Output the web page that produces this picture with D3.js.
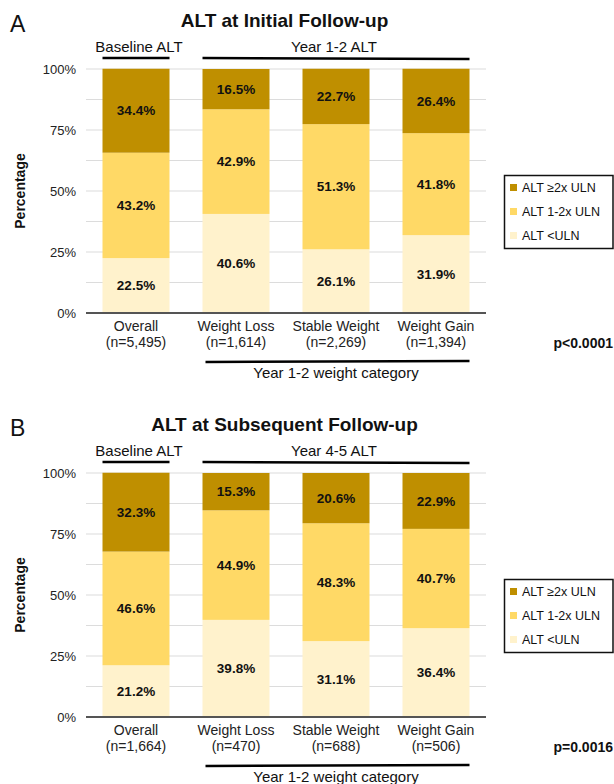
<!DOCTYPE html>
<html>
<head>
<meta charset="utf-8">
<script src="https://cdn.jsdelivr.net/npm/d3@7"></script>
<style>
  html, body { margin: 0; padding: 0; background: #fff; }
  svg, svg text { font-family: Arial, "Liberation Sans", Helvetica, sans-serif; }
  svg { display: block; }
</style>
</head>
<body>
<svg id="chart" width="614" height="784"></svg>
<script>
// Weight category groups shown on the x axis
const categories = ["Overall", "Weight Loss", "Stable Weight", "Weight Gain"];
const yTicks = [0, 25, 50, 75, 100];
const seriesNames = ["ALT <ULN", "ALT 1-2x ULN", "ALT \u22652x ULN"];

// Panel A: ALT at initial follow-up
const initialN = ["5,495", "1,614", "2,269", "1,394"];
const initialBelowULN = [22.5, 40.6, 26.1, 31.9];
const initialOneToTwo = [43.2, 42.9, 51.3, 41.8];
const initialTwoPlus = [34.4, 16.5, 22.7, 26.4];

// Panel B: ALT at subsequent follow-up
const subsequentN = ["1,664", "470", "688", "506"];
const subsequentBelowULN = [21.2, 39.8, 31.1, 36.4];
const subsequentOneToTwo = [46.6, 44.9, 48.3, 40.7];
const subsequentTwoPlus = [32.3, 15.3, 20.6, 22.9];

const colors = ["#FFF2CC", "#FFD966", "#BF8F00"];

const svg = d3.select("#chart");

const panels = [
  { letter: "A", title: "ALT at Initial Follow-up", follow: "Year 1-2 ALT",
    n: initialN, series: [initialBelowULN, initialOneToTwo, initialTwoPlus],
    p: "p<0.0001", dy: 0 },
  { letter: "B", title: "ALT at Subsequent Follow-up", follow: "Year 4-5 ALT",
    n: subsequentN, series: [subsequentBelowULN, subsequentOneToTwo, subsequentTwoPlus],
    p: "p=0.0016", dy: 404 }
];

const x = d3.scaleBand().domain(categories).range([86, 486])
  .paddingInner(0.33).paddingOuter(0.165);

panels.forEach(panel => {
  const g = svg.append("g").attr("transform", `translate(0,${panel.dy})`);
  const y = d3.scaleLinear().domain([0, 100]).range([313, 69]);

  // panel letter and title
  g.append("text").attr("x", 10).attr("y", 32).attr("font-size", 23)
    .attr("fill", "#111").text(panel.letter);
  g.append("text").attr("x", 284.5).attr("y", 27).attr("text-anchor", "middle")
    .attr("font-size", 19).attr("font-weight", "bold").attr("fill", "#111")
    .text(panel.title);

  // minor and major gridlines
  g.append("g").selectAll("line").data(d3.range(12.5, 100.1, 12.5)).join("line")
    .attr("x1", 86).attr("x2", 486)
    .attr("y1", d => y(d)).attr("y2", d => y(d))
    .attr("stroke", "#dcdcdc").attr("stroke-width", 1.2);

  // y axis labels
  const yAxis = d3.axisLeft(y).tickValues(yTicks).tickFormat(d => d + "%").tickSize(0).tickPadding(10);
  const ya = g.append("g").attr("transform", "translate(86,0)").call(yAxis);
  ya.select(".domain").remove();
  ya.attr("font-family", null);
  ya.selectAll("text").attr("font-size", 13).attr("fill", "#222");

  g.append("text").attr("transform", `translate(25,${y(50)}) rotate(-90)`)
    .attr("text-anchor", "middle").attr("font-size", 14).attr("font-weight", "bold")
    .attr("fill", "#111").text("Percentage");

  // stacked bars
  const rows = categories.map((c, i) => {
    const r = { cat: c };
    seriesNames.forEach((s, k) => { r[s] = panel.series[k][i]; });
    return r;
  });
  const stacked = d3.stack().keys(seriesNames)(rows);

  const layers = g.append("g").selectAll("g").data(stacked).join("g")
    .attr("fill", (d, k) => colors[k]);
  layers.selectAll("rect").data(d => d).join("rect")
    .attr("x", d => x(d.data.cat))
    .attr("width", x.bandwidth())
    .attr("y", d => y(d[1]))
    .attr("height", d => y(d[0]) - y(d[1]));

  // segment value labels
  const labels = g.append("g");
  stacked.forEach(layer => {
    layer.forEach(d => {
      labels.append("text")
        .attr("x", x(d.data.cat) + x.bandwidth() / 2)
        .attr("y", y((d[0] + d[1]) / 2))
        .attr("dy", "0.35em")
        .attr("text-anchor", "middle")
        .attr("font-size", 13.5).attr("font-weight", "bold").attr("fill", "#111")
        .text(d3.format(".1f")(d[1] - d[0]) + "%");
    });
  });

  // x axis baseline
  g.append("line").attr("x1", 86).attr("x2", 486).attr("y1", y(0)).attr("y2", y(0))
    .attr("stroke", "#555").attr("stroke-width", 2);

  // category labels with sample sizes
  const xa = g.append("g");
  categories.forEach((c, i) => {
    const cx = x(c) + x.bandwidth() / 2;
    xa.append("text").attr("x", cx).attr("y", 331).attr("text-anchor", "middle")
      .attr("font-size", 14).attr("fill", "#222").text(c);
    xa.append("text").attr("x", cx).attr("y", 347).attr("text-anchor", "middle")
      .attr("font-size", 14).attr("fill", "#222").text(`(n=${panel.n[i]})`);
  });

  // group brackets above bars
  const first = x(categories[0]), firstEnd = first + x.bandwidth();
  const restStart = x(categories[1]), restEnd = x(categories[3]) + x.bandwidth();
  g.append("line").attr("x1", first).attr("x2", firstEnd).attr("y1", 58).attr("y2", 58)
    .attr("stroke", "#000").attr("stroke-width", 2.5);
  g.append("text").attr("x", (first + firstEnd) / 2 + 3).attr("y", 52).attr("text-anchor", "middle")
    .attr("font-size", 15).attr("fill", "#111").text("Baseline ALT");
  g.append("line").attr("x1", restStart).attr("x2", restEnd).attr("y1", 58).attr("y2", 59)
    .attr("stroke", "#000").attr("stroke-width", 2.5);
  g.append("text").attr("x", (restStart + restEnd) / 2 - 2).attr("y", 52).attr("text-anchor", "middle")
    .attr("font-size", 15).attr("fill", "#111").text(panel.follow);

  // bracket below weight groups
  g.append("line").attr("x1", restStart + 3).attr("x2", restEnd).attr("y1", 362).attr("y2", 361)
    .attr("stroke", "#000").attr("stroke-width", 2.5);
  g.append("text").attr("x", (restStart + restEnd) / 2).attr("y", 378).attr("text-anchor", "middle")
    .attr("font-size", 15).attr("fill", "#111").text("Year 1-2 weight category");

  // p value
  g.append("text").attr("x", 613).attr("y", 348).attr("text-anchor", "end")
    .attr("font-size", 14).attr("font-weight", "bold").attr("fill", "#111").text(panel.p);

  // legend
  const lg = g.append("g");
  lg.append("rect").attr("x", 504.5).attr("y", 175.5).attr("width", 108.5).attr("height", 73)
    .attr("fill", "#fff").attr("stroke", "#111").attr("stroke-width", 1.5);
  const legendOrder = [2, 1, 0];
  legendOrder.forEach((k, row) => {
    const cy = 188 + row * 24;
    lg.append("rect").attr("x", 510).attr("y", cy - 4).attr("width", 7).attr("height", 7)
      .attr("fill", colors[k]);
    lg.append("text").attr("x", 522).attr("y", cy).attr("dy", "0.35em")
      .attr("font-size", 12.5).attr("fill", "#111").text(seriesNames[k]);
  });
});
</script>
</body>
</html>
